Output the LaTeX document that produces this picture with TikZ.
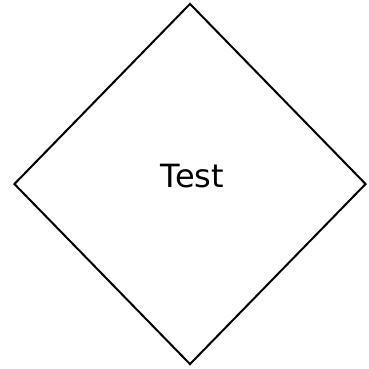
\documentclass[tikz,border=0pt]{standalone}
\usepackage{fontspec}
\setmainfont{DejaVu Sans}
\usetikzlibrary{shapes.geometric}

\begin{document}
\begin{tikzpicture}[
  x=1pt, y=-1pt,
  decision/.style={diamond,draw,line width=2pt,inner sep=0pt,
    minimum width=352pt,minimum height=361pt},
  tag/.style={font=\fontsize{32}{36}\selectfont,inner sep=0pt}
]
  \useasboundingbox (0,0) rectangle (369,368);
  \node[decision] (test) at (190,184) {};
  \node[tag,anchor=base] (testtext) at (192.5,187) {Test};
\end{tikzpicture}
\end{document}
